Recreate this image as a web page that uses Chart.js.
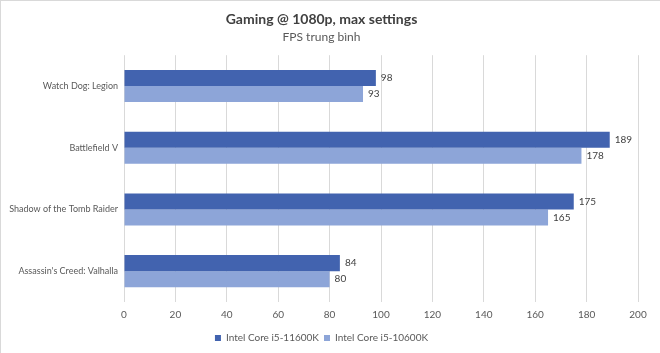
<!DOCTYPE html>
<html>
<head>
<meta charset="utf-8">
<script src="https://cdn.jsdelivr.net/npm/chart.js@4"></script>
<style>
  html, body { margin: 0; padding: 0; background: #fff; }
  #wrap { width: 660px; height: 353px; position: relative; box-sizing: border-box; border-top: 1px solid #d9d9d9; border-left: 1px solid #d9d9d9; }
</style>
</head>
<body>
<div id="wrap"><canvas id="c"></canvas></div>
<script>
const categories = ["Watch Dog: Legion", "Battlefield V", "Shadow of the Tomb Raider", "Assassin's Creed: Valhalla"];
const series11600K = [98, 189, 175, 84];
const series10600K = [93, 178, 165, 80];
const seriesNames = ["Intel Core i5-11600K", "Intel Core i5-10600K"];
const titleText = "Gaming @ 1080p, max settings";
const subtitleText = "FPS trung bình";

const FONT = "Lato, 'Open Sans', sans-serif";

const labelPlugin = {
  id: 'valueLabels',
  afterDatasetsDraw(chart) {
    const ctx = chart.ctx;
    ctx.save();
    ctx.font = "10px " + FONT;
    ctx.fillStyle = "#404040";
    ctx.textBaseline = "middle";
    ctx.textAlign = "left";
    chart.data.datasets.forEach((ds, i) => {
      const meta = chart.getDatasetMeta(i);
      meta.data.forEach((el, j) => {
        ctx.fillText(String(ds.data[j]), el.x + 5, el.y);
      });
    });
    ctx.restore();
  }
};

new Chart(document.getElementById('c'), {
  type: 'bar',
  data: {
    labels: categories,
    datasets: [
      { label: seriesNames[0], data: series11600K, backgroundColor: '#4263AF', categoryPercentage: 0.52, barPercentage: 1.0 },
      { label: seriesNames[1], data: series10600K, backgroundColor: '#8DA5D8', categoryPercentage: 0.52, barPercentage: 1.0 }
    ]
  },
  options: {
    indexAxis: 'y',
    responsive: true,
    maintainAspectRatio: false,
    animation: false,
    layout: { padding: { left: 4, right: 22, top: 0, bottom: 0 } },
    scales: {
      x: {
        min: 0, max: 200,
        ticks: { stepSize: 20, color: '#595959', font: { size: 10, family: FONT }, padding: 7 },
        grid: { color: '#d9d9d9', drawTicks: false },
        border: { display: false }
      },
      y: {
        ticks: { color: '#595959', font: { size: 9, family: FONT }, padding: 6 },
        grid: { display: false, drawTicks: false },
        border: { display: false },
        afterFit(scale) { scale.width = 119; }
      }
    },
    plugins: {
      title: { display: true, text: titleText, color: '#404040', font: { size: 14, weight: 'bold', family: FONT }, padding: { top: 10, bottom: 2 } },
      subtitle: { display: true, text: subtitleText, color: '#595959', font: { size: 12, family: FONT }, padding: { bottom: 11 } },
      legend: { position: 'bottom', labels: { boxWidth: 6, boxHeight: 6, color: '#595959', font: { size: 10, family: FONT }, padding: 5 } },
      tooltip: { enabled: false }
    }
  },
  plugins: [labelPlugin]
});
</script>
</body>
</html>
